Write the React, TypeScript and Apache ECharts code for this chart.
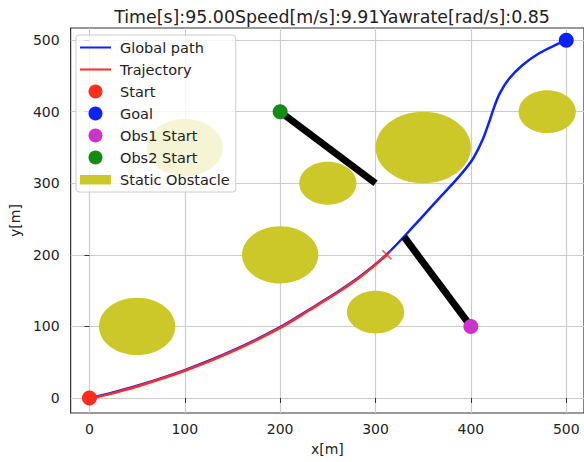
import React, { useEffect, useRef } from "react";
import * as echarts from "echarts";

const xTicks = [0, 100, 200, 300, 400, 500];
const yTicks = [0, 100, 200, 300, 400, 500];

const pathX = [0, 20, 50, 100, 150, 200, 231, 260, 284, 312, 340, 368, 388, 402, 412, 419, 424, 430, 440, 454, 472, 490, 500];
const pathY = [0, 6, 17, 39, 66, 99, 124, 148, 170, 201, 240, 281, 310, 334, 360, 385, 405, 425, 446, 465, 482, 494, 500];

const trajX = [0, 20, 50, 100, 150, 200, 231, 260, 284, 312];
const trajY = [-1, 5, 16, 38, 65, 98, 123, 147, 169, 200];

const obsX = [50, 100, 200, 250, 300, 350, 480];
const obsY = [100, 350, 200, 300, 120, 350, 400];
const obsR = [40, 40, 40, 30, 30, 50, 30];

const startPt = [0, 0];
const goalPt = [500, 500];
const obs1Start = [400, 100];
const obs1End = [330, 225];
const obs2Start = [200, 400];
const obs2End = [300, 300];

const titleText = "Time[s]:95.00Speed[m/s]:9.91Yawrate[rad/s]:0.85";

const FONT = "DejaVu Sans";
const OLIVE = "#cdc829";
const LINE_ICON = "path://M0,0L31,0L31,0.01Z M0,5.9L31,5.9L31,8.1L0,8.1Z M0,14L31,14L31,14.01Z";
const RECT_ICON = "path://M0,0L31,0L31,0.01Z M0,2.5L31,2.5L31,12L0,12Z M0,14L31,14L31,14.01Z";

export default function App() {
  const ref = useRef<HTMLDivElement>(null);
  useEffect(() => {
    document.body.style.margin = "0";
    if (!ref.current) return;
    const chart = echarts.init(ref.current, null, { renderer: "svg" });
    const pathData = pathX.map((x, i) => [x, pathY[i]]);
    const trajData = trajX.map((x, i) => [x, trajY[i]]);
    const obsData = obsX.map((x, i) => [x, obsY[i], obsR[i]]);
    const trajEnd = [trajX[trajX.length - 1], trajY[trajY.length - 1]];

    chart.setOption({
      animation: false,
      backgroundColor: "#ffffff",
      textStyle: { fontFamily: FONT },
      title: {
        text: titleText,
        left: 327,
        textAlign: "center",
        top: 3,
        textStyle: { fontFamily: FONT, fontSize: 17.4, fontWeight: "normal", color: "#222" },
      },
      grid: {
        left: 68,
        top: 28,
        right: -2,
        bottom: 49,
        show: true,
        borderColor: "#333",
        borderWidth: 1.2,
        backgroundColor: "#fff",
      },
      legend: {
        orient: "vertical",
        left: 76,
        top: 35,
        padding: [5, 6, 5, 4],
        itemWidth: 31,
        itemHeight: 14,
        itemGap: 7,
        backgroundColor: "rgba(255,255,255,0.8)",
        borderColor: "#cccccc",
        borderWidth: 1,
        borderRadius: 3,
        textStyle: { fontFamily: FONT, fontSize: 14.5, color: "#222", lineHeight: 14, padding: [0, 0, 0, 4] },
        data: [
          { name: "Global path", icon: LINE_ICON },
          { name: "Trajectory", icon: LINE_ICON },
          { name: "Start", icon: "circle" },
          { name: "Goal", icon: "circle" },
          { name: "Obs1 Start", icon: "circle" },
          { name: "Obs2 Start", icon: "circle" },
          { name: "Static Obstacle", icon: RECT_ICON },
        ],
      },
      xAxis: {
        type: "value",
        min: -19.7,
        max: 518.6,
        name: "x[m]",
        nameLocation: "middle",
        nameGap: 29,
        nameTextStyle: { fontFamily: FONT, fontSize: 14, color: "#222" },
        axisLine: { show: false },
        axisTick: { show: true, length: 5, lineStyle: { color: "#333" }, customValues: xTicks },
        axisLabel: { margin: 9, fontFamily: FONT, fontSize: 14, color: "#222", customValues: xTicks },
        splitLine: { show: true, lineStyle: { color: "#cccccc", width: 1.2 } },
      },
      yAxis: {
        type: "value",
        min: -21,
        max: 517,
        name: "y[m]",
        nameLocation: "middle",
        nameGap: 40,
        nameTextStyle: { fontFamily: FONT, fontSize: 14, color: "#222" },
        axisLine: { show: false },
        axisTick: { show: true, length: 5, lineStyle: { color: "#333" }, customValues: yTicks },
        axisLabel: { margin: 11, fontFamily: FONT, fontSize: 14, color: "#222", customValues: yTicks },
        splitLine: { show: true, lineStyle: { color: "#cccccc", width: 1.2 } },
      },
      series: [
        {
          name: "Static Obstacle",
          type: "custom",
          z: 1,
          itemStyle: { color: OLIVE },
          data: obsData,
          encode: { x: 0, y: 1 },
          renderItem: (params: any, api: any) => {
            const c = api.coord([api.value(0), api.value(1)]);
            const r = api.value(2);
            const s = api.size([r, r]);
            return {
              type: "ellipse",
              shape: { cx: c[0], cy: c[1], rx: s[0], ry: s[1] },
              style: { fill: OLIVE },
            };
          },
        },
        {
          name: "Global path",
          type: "line",
          z: 3,
          data: pathData,
          symbol: "none",
          smooth: 0.3,
          lineStyle: { color: "#0a22ff", width: 2.5 },
          itemStyle: { color: "#0a22ff" },
        },
        {
          name: "Trajectory",
          type: "line",
          z: 4,
          data: trajData,
          symbol: "none",
          smooth: 0.3,
          lineStyle: { color: "#ff2a2a", width: 2.5 },
          itemStyle: { color: "#ff2a2a" },
        },
        {
          name: "Obs1 path",
          type: "line",
          z: 5,
          data: [obs1Start, obs1End],
          symbol: "none",
          lineStyle: { color: "#000", width: 7 },
          itemStyle: { color: "#000" },
        },
        {
          name: "Obs2 path",
          type: "line",
          z: 5,
          data: [obs2Start, obs2End],
          symbol: "none",
          lineStyle: { color: "#000", width: 7 },
          itemStyle: { color: "#000" },
        },
        {
          name: "Trajectory end",
          type: "scatter",
          z: 6,
          data: [trajEnd],
          symbol: "path://M0,0L10,10M10,0L0,10",
          symbolSize: 9,
          itemStyle: { color: "none", borderColor: "#ff2a2a", borderWidth: 1.5 },
        },
        {
          name: "Start",
          type: "scatter",
          z: 7,
          data: [startPt],
          symbolSize: 15,
          itemStyle: { color: "#ff2e1c", opacity: 1 },
        },
        {
          name: "Goal",
          type: "scatter",
          z: 7,
          data: [goalPt],
          symbolSize: 15,
          itemStyle: { color: "#0a22ff", opacity: 1 },
        },
        {
          name: "Obs1 Start",
          type: "scatter",
          z: 7,
          data: [obs1Start],
          symbolSize: 15,
          itemStyle: { color: "#cc33cc", opacity: 1 },
        },
        {
          name: "Obs2 Start",
          type: "scatter",
          z: 7,
          data: [obs2Start],
          symbolSize: 15,
          itemStyle: { color: "#128c12", opacity: 1 },
        },
      ],
    });
    return () => chart.dispose();
  }, []);
  return <div ref={ref} style={{ width: 584, height: 462 }} />;
}
